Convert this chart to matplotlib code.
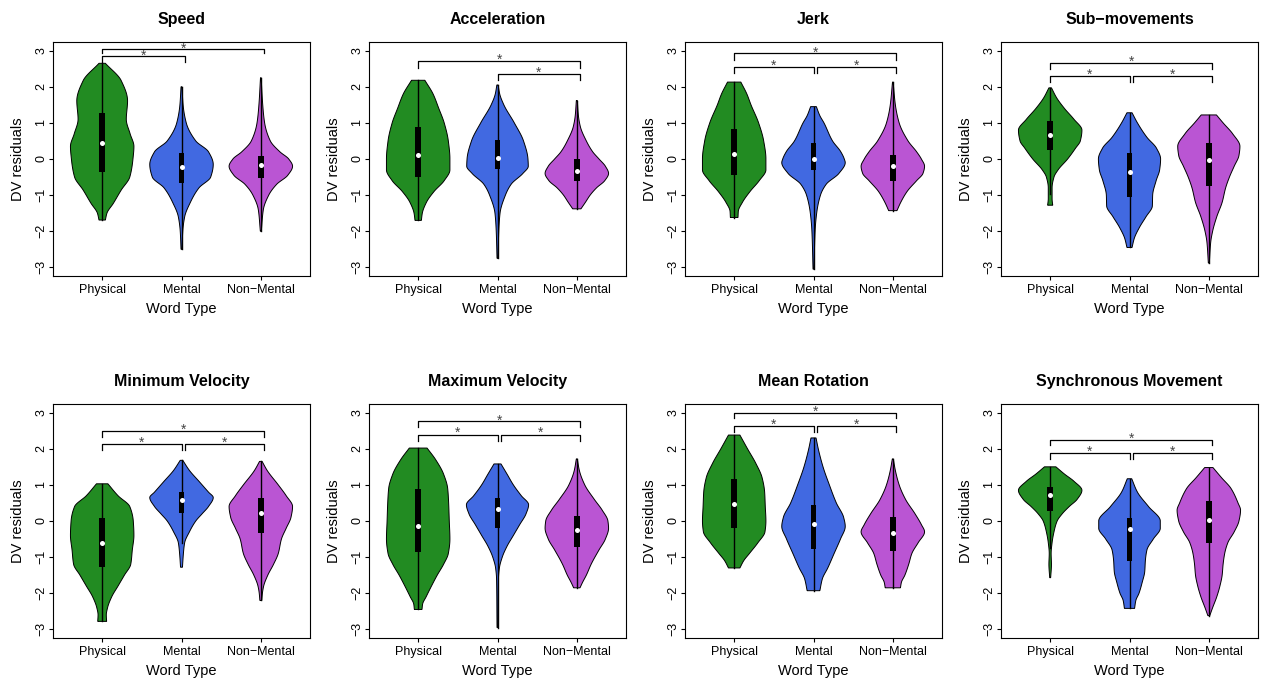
import numpy as np
import matplotlib
matplotlib.use("Agg")
import matplotlib.pyplot as plt
from matplotlib.patches import Rectangle

plt.rcParams['font.family'] = ['Liberation Sans', 'DejaVu Sans']

# ---------------- data ----------------
groups = ["Physical", "Mental", "Non\u2212Mental"]
colors = ["#228B22", "#4169E1", "#BA55D3"]
titles = ["Speed", "Acceleration", "Jerk", "Sub\u2212movements",
          "Minimum Velocity", "Maximum Velocity", "Mean Rotation", "Synchronous Movement"]
yticks = [-3, -2, -1, 0, 1, 2, 3]

# stats per group: [whisker_low, q1, median, q3, whisker_high]
speed_stats = [[-1.69, -0.36, 0.45, 1.28, 2.65], [-2.5, -0.66, -0.23, 0.16, 2.0], [-2.0, -0.52, -0.17, 0.08, 2.25]]
accel_stats = [[-1.7, -0.49, 0.10, 0.88, 2.18], [-2.75, -0.27, 0.02, 0.52, 2.05], [-1.38, -0.62, -0.34, 0.0, 1.62]]
jerk_stats = [[-1.62, -0.43, 0.13, 0.84, 2.13], [-3.05, -0.31, 0.0, 0.44, 1.45], [-1.43, -0.60, -0.19, 0.12, 2.13]]
submov_stats = [[-0.97, 0.25, 0.66, 1.06, 1.97], [-2.45, -1.05, -0.36, 0.17, 1.28], [-2.88, -0.76, -0.03, 0.44, 1.22]]
minvel_stats = [[-2.78, -1.28, -0.60, 0.08, 1.03], [-0.62, 0.22, 0.57, 0.80, 1.68], [-2.2, -0.32, 0.22, 0.65, 1.65]]
maxvel_stats = [[-2.45, -0.86, -0.13, 0.88, 2.02], [-2.95, -0.20, 0.34, 0.65, 1.58], [-1.85, -0.72, -0.24, 0.15, 1.72]]
meanrot_stats = [[-1.3, -0.20, 0.46, 1.15, 2.38], [-1.93, -0.77, -0.09, 0.44, 2.30], [-1.85, -0.82, -0.32, 0.10, 1.72]]
sync_stats = [[-0.75, 0.27, 0.71, 0.93, 1.50], [-2.42, -1.12, -0.22, 0.08, 1.17], [-2.62, -0.62, 0.03, 0.56, 1.48]]

# violin outlines: (y value, relative half width)
speed_profiles = [
    [(2.65, 0.10), (2.17, 0.60), (1.61, 0.80), (1.1, 0.76), (0.70, 0.88), (0.35, 1.0), (0.0, 0.97), (-0.5, 0.87), (-0.86, 0.6), (-1.23, 0.35), (-1.5, 0.15), (-1.69, 0.10)],
    [(2.0, 0.015), (1.5, 0.05), (1.0, 0.15), (0.5, 0.45), (0.2, 0.85), (-0.15, 1.0), (-0.5, 0.92), (-0.8, 0.55), (-1.2, 0.28), (-1.6, 0.10), (-2.0, 0.04), (-2.5, 0.015)],
    [(2.25, 0.01), (1.5, 0.06), (1.0, 0.12), (0.5, 0.3), (0.2, 0.6), (0.0, 0.88), (-0.2, 1.0), (-0.45, 0.85), (-0.7, 0.5), (-1.0, 0.25), (-1.4, 0.08), (-2.0, 0.015)],
]
accel_profiles = [
    [(2.18, 0.21), (1.8, 0.47), (1.4, 0.65), (1.0, 0.82), (0.5, 0.95), (0.0, 1.0), (-0.3, 1.0), (-0.6, 0.82), (-0.9, 0.5), (-1.2, 0.26), (-1.5, 0.13), (-1.7, 0.10)],
    [(2.05, 0.02), (1.8, 0.07), (1.5, 0.2), (1.0, 0.53), (0.5, 0.82), (0.0, 0.96), (-0.2, 0.97), (-0.4, 0.8), (-0.7, 0.43), (-1.0, 0.25), (-1.5, 0.08), (-2.0, 0.04), (-2.75, 0.015)],
    [(1.62, 0.015), (1.2, 0.05), (0.9, 0.11), (0.5, 0.3), (0.2, 0.5), (0.0, 0.7), (-0.2, 0.9), (-0.4, 1.0), (-0.6, 0.88), (-0.8, 0.62), (-1.0, 0.42), (-1.2, 0.27), (-1.38, 0.13)],
]
jerk_profiles = [
    [(2.13, 0.21), (1.8, 0.4), (1.5, 0.53), (1.0, 0.77), (0.5, 0.93), (0.0, 1.0), (-0.3, 1.0), (-0.6, 0.79), (-0.9, 0.5), (-1.2, 0.26), (-1.45, 0.13), (-1.62, 0.12)],
    [(1.45, 0.09), (1.2, 0.2), (1.0, 0.33), (0.5, 0.6), (0.2, 0.86), (0.0, 0.97), (-0.1, 1.0), (-0.4, 0.8), (-0.7, 0.4), (-1.0, 0.22), (-1.5, 0.1), (-2.0, 0.05), (-3.05, 0.015)],
    [(2.13, 0.01), (1.5, 0.08), (1.0, 0.2), (0.5, 0.48), (0.2, 0.75), (0.0, 0.9), (-0.2, 1.0), (-0.4, 0.95), (-0.6, 0.75), (-0.9, 0.45), (-1.2, 0.25), (-1.43, 0.13)],
]
submov_profiles = [
    [(1.97, 0.04), (1.7, 0.2), (1.4, 0.45), (1.1, 0.75), (0.8, 1.0), (0.5, 0.95), (0.3, 0.8), (0.0, 0.55), (-0.3, 0.25), (-0.5, 0.12), (-0.8, 0.06), (-1.1, 0.06), (-1.28, 0.08)],
    [(1.28, 0.08), (1.0, 0.25), (0.6, 0.55), (0.3, 0.85), (0.0, 0.98), (-0.3, 0.95), (-0.6, 0.84), (-1.0, 0.73), (-1.3, 0.72), (-1.6, 0.52), (-1.9, 0.31), (-2.2, 0.15), (-2.45, 0.08)],
    [(1.22, 0.24), (1.0, 0.45), (0.7, 0.75), (0.35, 0.98), (0.1, 0.95), (-0.2, 0.8), (-0.5, 0.65), (-0.8, 0.53), (-1.2, 0.42), (-1.6, 0.25), (-2.0, 0.12), (-2.3, 0.06), (-2.88, 0.015)],
]
minvel_profiles = [
    [(1.03, 0.18), (0.7, 0.5), (0.4, 0.87), (0.0, 0.98), (-0.4, 1.0), (-0.8, 0.95), (-1.2, 0.9), (-1.5, 0.7), (-1.8, 0.5), (-2.1, 0.3), (-2.4, 0.17), (-2.6, 0.13), (-2.78, 0.14)],
    [(1.68, 0.04), (1.4, 0.25), (1.1, 0.55), (0.8, 0.85), (0.65, 1.0), (0.4, 0.85), (0.2, 0.65), (0.0, 0.45), (-0.3, 0.25), (-0.6, 0.1), (-0.9, 0.06), (-1.28, 0.03)],
    [(1.65, 0.04), (1.4, 0.2), (1.0, 0.55), (0.7, 0.8), (0.4, 1.0), (0.1, 0.95), (-0.2, 0.8), (-0.5, 0.65), (-0.9, 0.55), (-1.2, 0.4), (-1.5, 0.22), (-1.8, 0.09), (-2.0, 0.05), (-2.2, 0.03)],
]
maxvel_profiles = [
    [(2.02, 0.28), (1.7, 0.55), (1.3, 0.8), (0.9, 0.93), (0.5, 0.96), (0.0, 0.98), (-0.5, 1.0), (-0.9, 0.95), (-1.2, 0.8), (-1.5, 0.6), (-1.8, 0.42), (-2.1, 0.25), (-2.3, 0.14), (-2.45, 0.12)],
    [(1.58, 0.11), (1.3, 0.3), (1.0, 0.5), (0.7, 0.75), (0.45, 0.98), (0.2, 0.9), (-0.1, 0.7), (-0.4, 0.5), (-0.7, 0.3), (-1.0, 0.15), (-1.3, 0.06), (-1.6, 0.03), (-2.95, 0.015)],
    [(1.72, 0.015), (1.4, 0.08), (1.0, 0.25), (0.6, 0.55), (0.3, 0.8), (0.0, 0.98), (-0.2, 1.0), (-0.5, 0.9), (-0.8, 0.7), (-1.2, 0.45), (-1.5, 0.3), (-1.7, 0.18), (-1.85, 0.1)],
]
meanrot_profiles = [
    [(2.38, 0.18), (2.0, 0.42), (1.6, 0.68), (1.2, 0.88), (0.8, 0.96), (0.4, 0.98), (0.0, 1.0), (-0.3, 0.97), (-0.6, 0.75), (-0.9, 0.48), (-1.1, 0.3), (-1.3, 0.18)],
    [(2.3, 0.08), (2.0, 0.15), (1.5, 0.3), (1.0, 0.5), (0.5, 0.72), (0.1, 0.95), (-0.15, 1.0), (-0.5, 0.85), (-0.9, 0.65), (-1.3, 0.45), (-1.6, 0.28), (-1.93, 0.2)],
    [(1.72, 0.015), (1.4, 0.08), (1.0, 0.2), (0.6, 0.4), (0.2, 0.7), (-0.1, 0.9), (-0.3, 1.0), (-0.6, 0.8), (-0.9, 0.6), (-1.2, 0.5), (-1.5, 0.38), (-1.7, 0.27), (-1.85, 0.24)],
]
sync_profiles = [
    [(1.5, 0.18), (1.3, 0.45), (1.1, 0.75), (0.85, 1.0), (0.6, 0.85), (0.4, 0.6), (0.2, 0.38), (0.0, 0.22), (-0.3, 0.12), (-0.6, 0.06), (-0.9, 0.03), (-1.2, 0.04), (-1.57, 0.015)],
    [(1.17, 0.07), (0.8, 0.25), (0.4, 0.6), (0.0, 0.97), (-0.2, 0.97), (-0.5, 0.75), (-0.8, 0.55), (-1.1, 0.5), (-1.4, 0.48), (-1.7, 0.4), (-2.0, 0.3), (-2.2, 0.2), (-2.42, 0.16)],
    [(1.48, 0.13), (1.2, 0.4), (0.9, 0.7), (0.5, 0.92), (0.3, 1.0), (0.0, 0.95), (-0.3, 0.8), (-0.6, 0.6), (-0.9, 0.5), (-1.2, 0.45), (-1.5, 0.42), (-1.8, 0.35), (-2.1, 0.25), (-2.4, 0.12), (-2.62, 0.03)],
]

# significance brackets: (group_from, group_to, line_y, tip_y, star_y)
speed_brackets = [(1, 2, 2.84, 2.68, 2.95), (1, 3, 3.06, 2.93, 3.15)]
accel_brackets = [(1, 3, 2.71, 2.53, 2.85), (2, 3, 2.36, 2.18, 2.49)]
jerk_brackets = [(1, 3, 2.93, 2.75, 3.05), (1, 2, 2.55, 2.38, 2.69), (2, 3, 2.55, 2.38, 2.69)]
submov_brackets = [(1, 3, 2.66, 2.50, 2.80), (1, 2, 2.29, 2.12, 2.44), (2, 3, 2.29, 2.12, 2.44)]
minvel_brackets = [(1, 3, 2.50, 2.34, 2.63), (1, 2, 2.13, 1.97, 2.28), (2, 3, 2.13, 1.97, 2.28)]
maxvel_brackets = [(1, 3, 2.76, 2.61, 2.89), (1, 2, 2.39, 2.22, 2.54), (2, 3, 2.39, 2.22, 2.54)]
meanrot_brackets = [(1, 3, 3.00, 2.84, 3.12), (1, 2, 2.63, 2.47, 2.77), (2, 3, 2.63, 2.47, 2.77)]
sync_brackets = [(1, 3, 2.25, 2.10, 2.37), (1, 2, 1.89, 1.71, 2.01), (2, 3, 1.89, 1.71, 2.01)]

all_stats = [speed_stats, accel_stats, jerk_stats, submov_stats, minvel_stats, maxvel_stats, meanrot_stats, sync_stats]
all_profiles = [speed_profiles, accel_profiles, jerk_profiles, submov_profiles, minvel_profiles, maxvel_profiles, meanrot_profiles, sync_profiles]
all_brackets = [speed_brackets, accel_brackets, jerk_brackets, submov_brackets, minvel_brackets, maxvel_brackets, meanrot_brackets, sync_brackets]


# ---------------- helpers ----------------
def pchip(xk, yk, x):
    xk = np.asarray(xk, float)
    yk = np.asarray(yk, float)
    h = np.diff(xk)
    d = np.diff(yk) / h
    n = len(xk)
    m = np.zeros(n)
    for k in range(1, n - 1):
        if d[k - 1] * d[k] > 0:
            w1 = 2 * h[k] + h[k - 1]
            w2 = h[k] + 2 * h[k - 1]
            m[k] = (w1 + w2) / (w1 / d[k - 1] + w2 / d[k])
    m[0] = d[0]
    m[-1] = d[-1]
    idx = np.clip(np.searchsorted(xk, x) - 1, 0, n - 2)
    t = (x - xk[idx]) / h[idx]
    h00 = 2 * t**3 - 3 * t**2 + 1
    h10 = t**3 - 2 * t**2 + t
    h01 = -2 * t**3 + 3 * t**2
    h11 = t**3 - t**2
    return h00 * yk[idx] + h10 * h[idx] * m[idx] + h01 * yk[idx + 1] + h11 * h[idx] * m[idx + 1]


HALF = 0.4
BOXHALF = 0.034


def draw_violin(ax, pos, prof, stats, color):
    pts = sorted(prof)
    ys = [p[0] for p in pts]
    ws = [p[1] for p in pts]
    yy = np.linspace(ys[0], ys[-1], 300)
    ww = np.clip(pchip(ys, ws, yy), 0.008, None) * HALF
    xs = np.concatenate([pos - ww, (pos + ww)[::-1]])
    yv = np.concatenate([yy, yy[::-1]])
    ax.fill(xs, yv, facecolor=color, edgecolor="black", lw=0.7, zorder=2)
    lo, q1, med, q3, hi = stats
    ax.plot([pos, pos], [lo, hi], color="black", lw=1.0, zorder=3)
    ax.add_patch(Rectangle((pos - BOXHALF, q1), 2 * BOXHALF, q3 - q1,
                           facecolor="black", edgecolor="none", zorder=4))
    ax.plot([pos], [med], "o", color="white", ms=3.6, mec="none", zorder=5)


def draw_brackets(ax, brackets):
    for (i, j, yl, yt, ys) in brackets:
        x1 = float(i)
        x2 = float(j) + 0.04
        for (i2, j2, yl2, _, _) in brackets:
            if j2 == i and abs(yl2 - yl) < 1e-6:
                x1 = i + 0.04
            if i2 == j and abs(yl2 - yl) < 1e-6:
                x2 = j
        ax.plot([x1, x1, x2, x2], [yt, yl, yl, yt], color="black", lw=0.9,
                zorder=3, clip_on=False)
        ax.annotate("*", xy=((x1 + x2) / 2, ys), xytext=(0, -5.6),
                    textcoords="offset points", ha="center", va="baseline",
                    fontsize=10, color="#444444", annotation_clip=False)


# ---------------- figure ----------------
W, H = 1261, 682
fig = plt.figure(figsize=(W / 100, H / 100), dpi=100)

col_left = [53, 369, 685, 1001]
row_top = [42, 404]
AW, AH = 257, 234

for k in range(8):
    r, c = divmod(k, 4)
    ax = fig.add_axes([col_left[c] / W, 1 - (row_top[r] + AH) / H, AW / W, AH / H])
    for g in range(3):
        draw_violin(ax, g + 1, all_profiles[k][g], all_stats[k][g], colors[g])
    draw_brackets(ax, all_brackets[k])
    ax.set_xlim(0.38, 3.62)
    ax.set_ylim(-3.24, 3.24)
    ax.set_xticks([1, 2, 3])
    ax.set_xticklabels(groups)
    ax.set_yticks(yticks)
    ax.set_yticklabels([str(v).replace("-", "\u2212") for v in yticks], rotation=90, va="center")
    ax.tick_params(axis="both", direction="out", length=3.2, width=0.8, labelsize=9, colors="black")
    ax.tick_params(axis="x", pad=2.3)
    ax.tick_params(axis="y", pad=1.0)
    for s in ax.spines.values():
        s.set_linewidth(0.8)
    ax.set_title(titles[k], fontsize=11.5, fontweight="bold", pad=13)
    ax.set_xlabel("Word Type", fontsize=10.5)
    ax.set_ylabel("DV residuals", fontsize=10.5)
    ax.xaxis.set_label_coords(0.5, -33.5 / AH)
    ax.xaxis.label.set_va("center")
    ax.yaxis.set_label_coords(-35 / AW, 0.5)
    ax.yaxis.label.set_va("center")

fig.savefig("out.png", dpi=100)
